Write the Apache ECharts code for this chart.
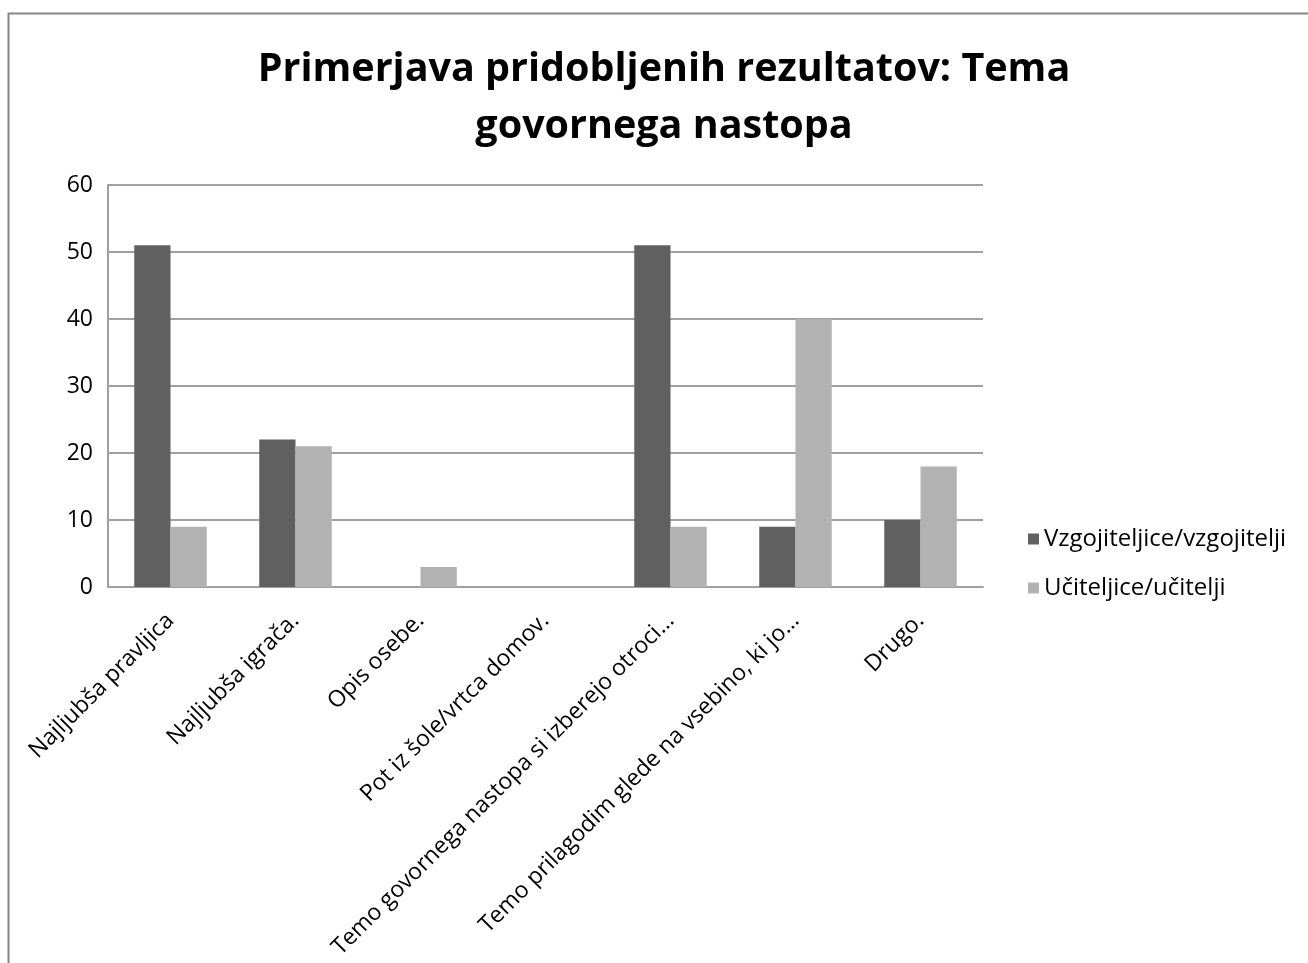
<!DOCTYPE html>
<html>
<head>
<meta charset="utf-8">
<script src="https://cdn.jsdelivr.net/npm/echarts@6/dist/echarts.min.js"></script>
<style>
    body { margin: 0; background: #fff; }
    #chart { width: 1308px; height: 963px; }
</style>
</head>
<body>
<div id="chart"></div>
<script>
var categories = [
    'Najljubša pravljica',
    'Najljubša igrača.',
    'Opis osebe.',
    'Pot iz šole/vrtca domov.',
    'Temo govornega nastopa si izberejo otroci…',
    'Temo prilagodim glede na vsebino, ki jo…',
    'Drugo.'
];
var vzgojiteljice = [51, 22, 0, 0, 51, 9, 10];
var uciteljice = [9, 21, 3, 0, 9, 40, 18];
var yTicks = [0, 10, 20, 30, 40, 50, 60];

var font = 'Open Sans';

var option = {
    animation: false,
    textStyle: { fontFamily: font },
    graphic: [
        {
            type: 'rect',
            shape: { x: 8.5, y: 13.5, width: 1400, height: 1000 },
            style: { fill: 'none', stroke: '#868686', lineWidth: 2 }
        }
    ],
    title: {
        text: 'Primerjava pridobljenih rezultatov: Tema\ngovornega nastopa',
        left: 659,
        top: 36,
        textAlign: 'center',
        textStyle: {
            fontFamily: font,
            fontSize: 39.5,
            fontWeight: 'bold',
            color: '#000',
            lineHeight: 57
        }
    },
    legend: {
        orient: 'vertical',
        left: 1023,
        top: 522,
        itemWidth: 11,
        itemHeight: 11,
        itemGap: 25,
        icon: 'rect',
        textStyle: { fontFamily: font, fontSize: 24, color: '#000' },
        data: ['Vzgojiteljice/vzgojitelji', 'Učiteljice/učitelji']
    },
    grid: {
        left: 108,
        right: 325,
        top: 185,
        bottom: 376,
        containLabel: false
    },
    xAxis: {
        type: 'category',
        data: categories,
        axisLine: { show: true, lineStyle: { color: '#a0a0a0', width: 2 } },
        axisTick: { show: false },
        axisLabel: {
            rotate: 45,
            interval: 0,
            margin: 30,
            fontSize: 23,
            color: '#000',
            fontFamily: font
        }
    },
    yAxis: {
        type: 'value',
        min: yTicks[0],
        max: yTicks[yTicks.length - 1],
        interval: 10,
        axisLine: { show: true, lineStyle: { color: '#a0a0a0', width: 2 } },
        axisTick: { show: false },
        splitLine: { lineStyle: { color: '#a0a0a0', width: 2 } },
        axisLabel: {
            fontSize: 23,
            color: '#000',
            margin: 15,
            fontFamily: font
        }
    },
    series: [
        {
            name: 'Vzgojiteljice/vzgojitelji',
            type: 'bar',
            data: vzgojiteljice,
            barGap: '0%',
            barCategoryGap: '42%',
            itemStyle: { color: '#606060' }
        },
        {
            name: 'Učiteljice/učitelji',
            type: 'bar',
            data: uciteljice,
            itemStyle: { color: '#b2b2b2' }
        }
    ]
};

var myChart = echarts.init(document.getElementById('chart'));
myChart.setOption(option);
</script>
</body>
</html>
